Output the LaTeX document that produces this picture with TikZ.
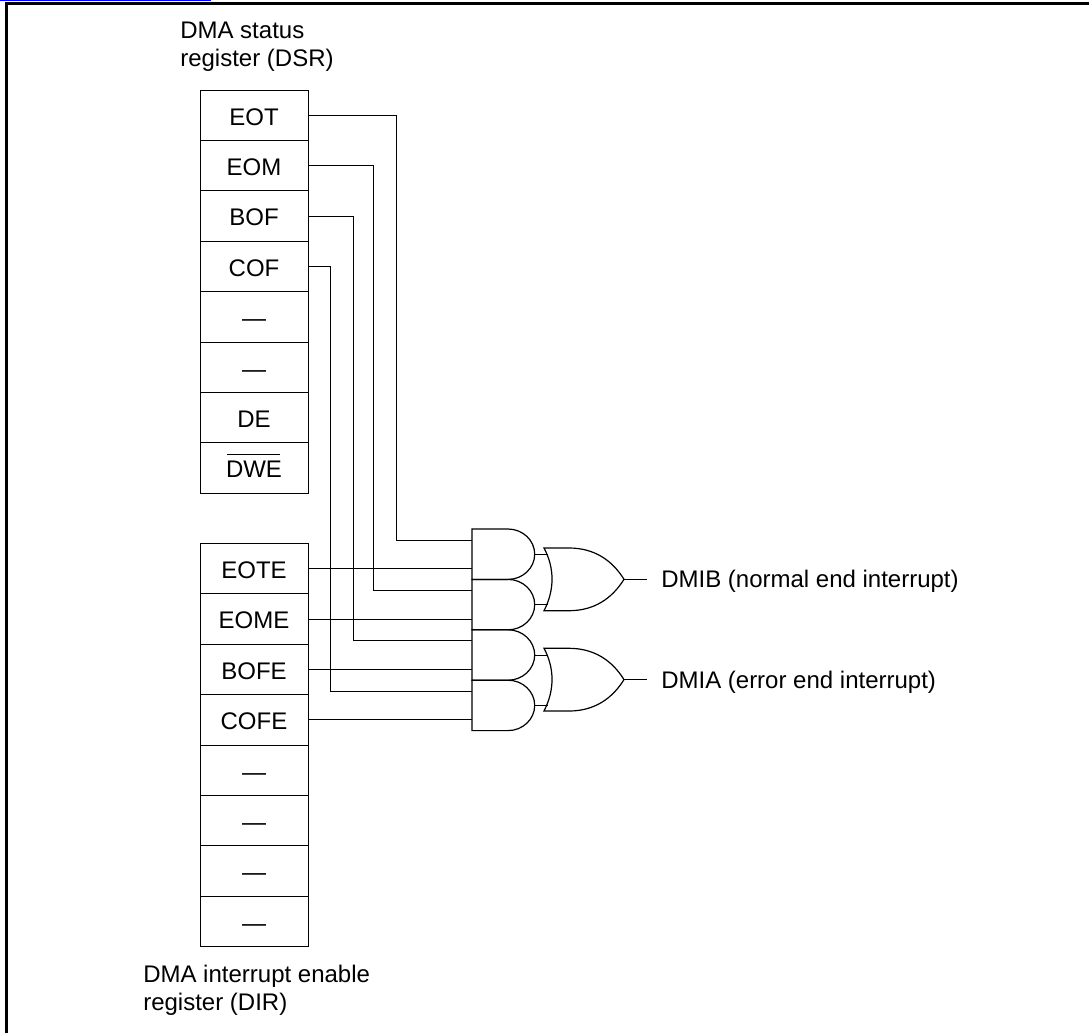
\documentclass[tikz,border=0pt]{standalone}
\usepackage{fontspec}
\setmainfont{Liberation Sans}
\newcommand{\barred}[1]{\makebox[0pt][l]{\hspace*{0.8pt}\rule[17.2pt]{39.5pt}{0.9pt}}#1}
\tikzset{
  regcell/.style={draw,line width=0.75pt,minimum width=81pt,minimum height=37.8pt,inner sep=0pt,text height=14.7pt,text depth=0pt,font=\fontsize{18}{18}\selectfont},
  title/.style={align=left,anchor=north west,inner sep=0pt,font=\fontsize{18}{20.5}\selectfont},
  outlabel/.style={anchor=base west,inner xsep=0pt,inner ysep=0pt,font=\fontsize{18}{18}\selectfont},
  wire/.style={line width=0.75pt},
  andgate/.pic={
    \draw[line width=0.9pt] (0,0) -- (36,0) .. controls (50.7,0) and (62.7,11.3) .. (62.7,25.2)
      .. controls (62.7,39.1) and (50.7,50.4) .. (36,50.4) -- (0,50.4) -- cycle;
    \coordinate (-in1) at (0,11);
    \coordinate (-in2) at (0,39.6);
    \coordinate (-out) at (62.7,25.4);
  },
  orgate/.pic={
    \draw[line width=0.9pt] (0,0) -- (25,0) .. controls (50,0) and (68,12) .. (80,31.3)
      .. controls (68,50.6) and (50,62.7) .. (25,62.7) -- (0,62.7)
      .. controls (10.7,42) and (10.7,20) .. (0,0) -- cycle;
    \coordinate (-in1) at (3.5,6.5);
    \coordinate (-in2) at (3.5,56.2);
    \coordinate (-out) at (80,31.3);
  }
}
\begin{document}
\begin{tikzpicture}[x=0.75pt,y=-0.75pt]
\useasboundingbox (0,0) rectangle (1089,1033);
\draw[blue,line width=1.2pt] (0,0.5) -- (211,0.5);
\draw[line width=2.4pt] (6.5,1033) -- (6.5,3.5) -- (1089,3.5);

\node[title] (dsrtitle) at (180,22) {DMA status\\register (DSR)};
\node[title] (dirtitle) at (143,965) {DMA interrupt enable\\register (DIR)};

\foreach \name/\txt [count=\i from 0] in {eot/EOT,eom/EOM,bof/BOF,cof/COF,dsra/---,dsrb/---,de/DE,dwe/\barred{DWE}}
  \node[regcell] (\name) at (254,115.2+50.4*\i) {\txt};
\foreach \name/\txt [count=\i from 0] in {eote/EOTE,eome/EOME,bofe/BOFE,cofe/COFE,dira/---,dirb/---,dirc/---,dird/---}
  \node[regcell] (\name) at (254,568.6+50.4*\i) {\txt};

\pic (anda) at (472,529) {andgate};
\pic (andb) at (472,579.4) {andgate};
\pic (andc) at (472,629.8) {andgate};
\pic (andd) at (472,680.2) {andgate};
\pic (orb) at (544,548) {orgate};
\pic (ora) at (544,648.3) {orgate};

\node[outlabel] (dmib) at (661,587.7) {DMIB (normal end interrupt)};
\node[outlabel] (dmia) at (661,688.3) {DMIA (error end interrupt)};

\draw[wire] (eot.east) -- ++(88,0) |- (anda-in1);
\draw[wire] (eom.east) -- ++(65,0) |- (andb-in1);
\draw[wire] (bof.east) -- ++(45,0) |- (andc-in1);
\draw[wire] (cof.east) -- ++(22,0) |- (andd-in1);
\draw[wire] (eote.east) -- (eote.east -| anda-in2);
\draw[wire] (eome.east) -- (eome.east -| andb-in2);
\draw[wire] (bofe.east) -- (bofe.east -| andc-in2);
\draw[wire] (cofe.east) -- (cofe.east -| andd-in2);
\draw[wire] (anda-out) -- (anda-out -| orb-in1);
\draw[wire] (andb-out) -- (andb-out -| orb-in2);
\draw[wire] (andc-out) -- (andc-out -| ora-in1);
\draw[wire] (andd-out) -- (andd-out -| ora-in2);
\draw[wire] (orb-out) -- ++(22.7,0);
\draw[wire] (ora-out) -- ++(22.7,0);
\end{tikzpicture}
\end{document}
